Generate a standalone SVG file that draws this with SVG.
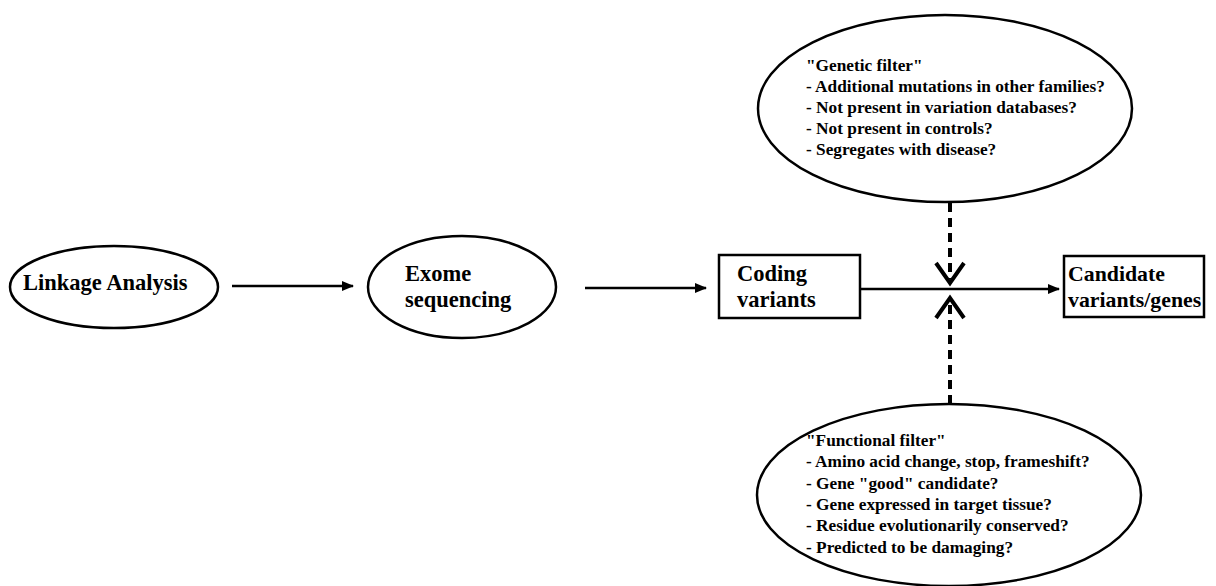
<svg xmlns="http://www.w3.org/2000/svg" width="1216" height="586" viewBox="0 0 1216 586">
<style>
.shape{fill:#fff;stroke:#000;stroke-width:2.5}
.big{font-size:22.5px}
.cand{font-size:21.8px}
.small{font-size:17.3px}
.conn{stroke:#000;stroke-width:2.5;fill:none}
.dash{stroke:#000;stroke-width:4;stroke-dasharray:9,6;fill:none}
.vhead{stroke:#000;stroke-width:4;fill:none}
</style>
<defs>
<marker id="arr" markerWidth="12" markerHeight="10" refX="11" refY="5" orient="auto" markerUnits="userSpaceOnUse">
<path d="M0,0 L12,5 L0,10 Z" fill="#000"/>
</marker>
</defs>
<rect width="1216" height="586" fill="#fff"/>
<g id="connectors">
<line class="conn" x1="232" y1="286" x2="353" y2="286" marker-end="url(#arr)"/>
<line class="conn" x1="585" y1="288" x2="706" y2="288" marker-end="url(#arr)"/>
<line class="conn" x1="860" y1="289" x2="1059" y2="289" marker-end="url(#arr)"/>
<line class="dash" x1="950" y1="203" x2="950" y2="279"/>
<polyline class="vhead" points="936,263 950,283 964,263"/>
<line class="dash" x1="950" y1="404" x2="950" y2="301"/>
<polyline class="vhead" points="936,318 950,298 964,318"/>
</g>
<g font-family="Liberation Serif, Times New Roman, serif" font-weight="bold" fill="#000">
<g id="linkage">
<ellipse class="shape" cx="114" cy="287" rx="104" ry="41"/>
<text class="big" x="23" y="290">Linkage Analysis</text>
</g>
<g id="exome">
<ellipse class="shape" cx="462" cy="287" rx="94" ry="51"/>
<text class="big" x="405" y="281">Exome</text>
<text class="big" x="405" y="307">sequencing</text>
</g>
<g id="coding">
<rect class="shape" x="719" y="255" width="141" height="63"/>
<text class="big" x="737" y="281">Coding</text>
<text class="big" x="737" y="307">variants</text>
</g>
<g id="candidate">
<rect class="shape" x="1064" y="256" width="140" height="61"/>
<text class="cand" x="1068" y="281">Candidate</text>
<text class="cand" x="1068" y="307">variants/genes</text>
</g>
<g id="genetic">
<ellipse class="shape" cx="945" cy="108.5" rx="187" ry="93.5"/>
<text class="small" x="806" y="71">"Genetic filter"</text>
<text class="small" x="806" y="92">- Additional mutations in other families?</text>
<text class="small" x="806" y="113">- Not present in variation databases?</text>
<text class="small" x="806" y="134">- Not present in controls?</text>
<text class="small" x="806" y="155">- Segregates with disease?</text>
</g>
<g id="functional">
<ellipse class="shape" cx="949" cy="495" rx="192" ry="91"/>
<text class="small" x="806" y="446">"Functional filter"</text>
<text class="small" x="806" y="467">- Amino acid change, stop, frameshift?</text>
<text class="small" x="806" y="489">- Gene "good" candidate?</text>
<text class="small" x="806" y="510">- Gene expressed in target tissue?</text>
<text class="small" x="806" y="531">- Residue evolutionarily conserved?</text>
<text class="small" x="806" y="553">- Predicted to be damaging?</text>
</g>
</g>
</svg>
